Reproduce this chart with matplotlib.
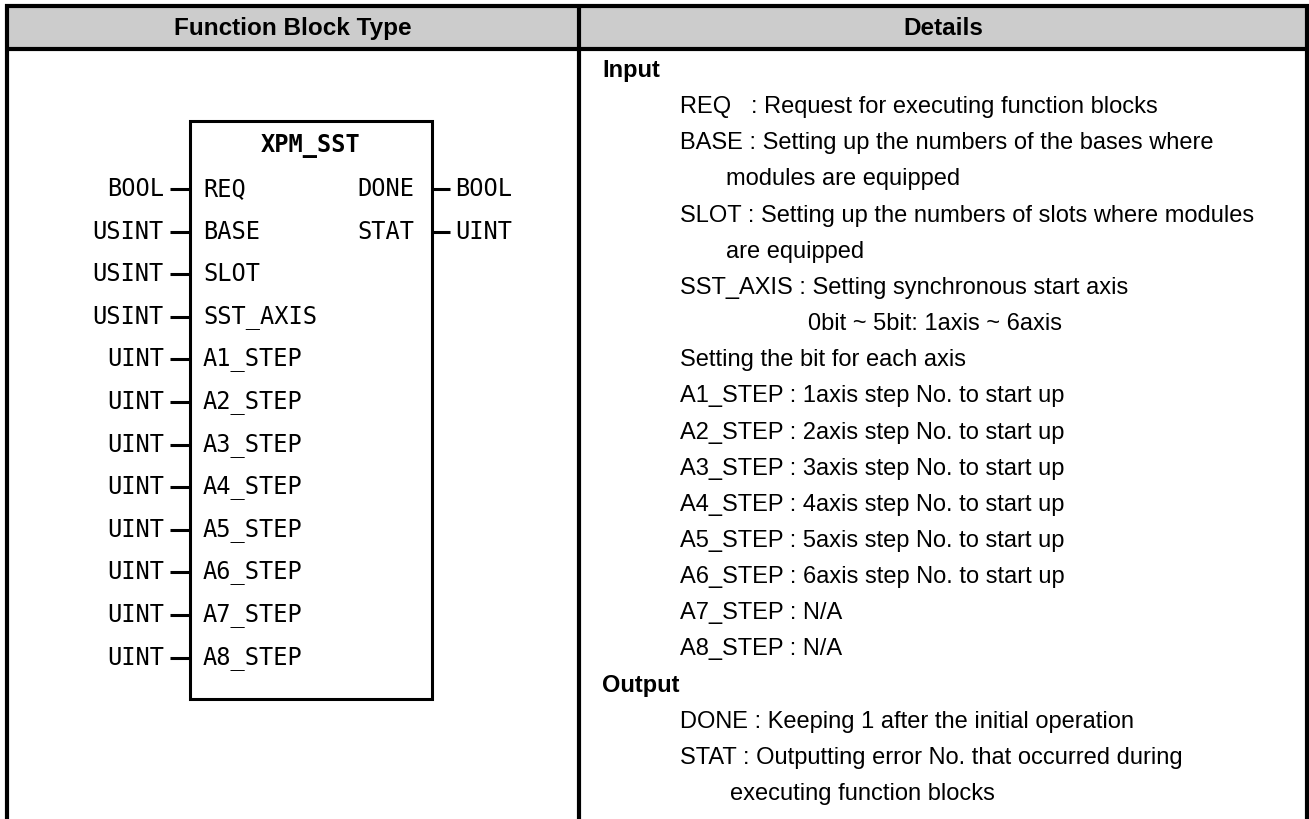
import matplotlib
matplotlib.use('Agg')
import matplotlib.pyplot as plt
from matplotlib.patches import Rectangle

# Данные блока
block_name = 'XPM_SST'
in_types = ['BOOL', 'USINT', 'USINT', 'USINT', 'UINT', 'UINT', 'UINT', 'UINT', 'UINT', 'UINT', 'UINT', 'UINT']
in_pins = ['REQ', 'BASE', 'SLOT', 'SST_AXIS', 'A1_STEP', 'A2_STEP', 'A3_STEP', 'A4_STEP',
           'A5_STEP', 'A6_STEP', 'A7_STEP', 'A8_STEP']
out_pins = ['DONE', 'STAT']
out_types = ['BOOL', 'UINT']

headers = ['Function Block Type', 'Details']

# Текст описания
detail_lines = [
    'Input',
    'REQ   : Request for executing function blocks',
    'BASE : Setting up the numbers of the bases where',
    'modules are equipped',
    'SLOT : Setting up the numbers of slots where modules',
    'are equipped',
    'SST_AXIS : Setting synchronous start axis',
    '0bit ~ 5bit: 1axis ~ 6axis',
    'Setting the bit for each axis',
    'A1_STEP : 1axis step No. to start up',
    'A2_STEP : 2axis step No. to start up',
    'A3_STEP : 3axis step No. to start up',
    'A4_STEP : 4axis step No. to start up',
    'A5_STEP : 5axis step No. to start up',
    'A6_STEP : 6axis step No. to start up',
    'A7_STEP : N/A',
    'A8_STEP : N/A',
    'Output',
    'DONE : Keeping 1 after the initial operation',
    'STAT : Outputting error No. that occurred during',
    'executing function blocks',
]
detail_indent = [0, 1, 1, 2, 1, 2, 1, 3, 1, 1, 1, 1, 1, 1, 1, 1, 1, 0, 1, 1, 4]
detail_bold = [True] + [False] * 16 + [True] + [False] * 3

W, H = 1309, 819
fig = plt.figure(figsize=(W / 100, H / 100), dpi=100)
ax = fig.add_axes([0, 0, 1, 1])
ax.set_xlim(0, W)
ax.set_ylim(H, 0)
ax.axis('off')

# Таблица
xl, xm, xr = 7, 579, 1307
yt, yh = 6, 49
lw_tab = 3.0
ax.add_patch(Rectangle((xl, yt), xr - xl, yh - yt, facecolor='#cccccc', edgecolor='none'))
ax.plot([xl, xl], [yt - 2, H], color='black', lw=lw_tab, solid_capstyle='butt')
ax.plot([xm, xm], [yt, H], color='black', lw=lw_tab, solid_capstyle='butt')
ax.plot([xr, xr], [yt, H], color='black', lw=lw_tab, solid_capstyle='butt')
ax.plot([xl - 2, W], [yt, yt], color='black', lw=lw_tab, solid_capstyle='butt')
ax.plot([xl, xr], [yh, yh], color='black', lw=lw_tab, solid_capstyle='butt')

hfont = dict(family=['Liberation Sans', 'DejaVu Sans'], fontsize=17.5, fontweight='bold')
ax.text((xl + xm) / 2, (yt + yh) / 2 + 1, headers[0], ha='center', va='center', **hfont)
ax.text((xm + xr) / 2, (yt + yh) / 2 + 1, headers[1], ha='center', va='center', **hfont)

# Функциональный блок
bx0, bx1, by0, by1 = 190, 432, 121, 699
ax.add_patch(Rectangle((bx0, by0), bx1 - bx0, by1 - by0, fill=False, edgecolor='black', lw=2.2))
mono = dict(family='DejaVu Sans Mono', fontsize=17)
ax.text((bx0 + bx1) / 2, 146, block_name, ha='center', va='center', fontweight='bold', **mono)

y_first, y_step = 189, 42.6
for i, (t, p) in enumerate(zip(in_types, in_pins)):
    y = y_first + i * y_step
    ax.plot([bx0 - 20, bx0], [y, y], color='black', lw=2.2, solid_capstyle='butt')
    ax.text(bx0 - 26, y, t, ha='right', va='center', **mono)
    ax.text(bx0 + 13, y, p, ha='left', va='center', **mono)
for i, (p, t) in enumerate(zip(out_pins, out_types)):
    y = y_first + i * y_step
    ax.plot([bx1, bx1 + 18], [y, y], color='black', lw=2.2, solid_capstyle='butt')
    ax.text(bx1 - 75, y, p, ha='left', va='center', **mono)
    ax.text(bx1 + 23, y, t, ha='left', va='center', **mono)

# Описание
indent_x = [602, 680, 726, 808, 730]
line_y0, line_dy = 71, 36.15
for i, (s, lev, b) in enumerate(zip(detail_lines, detail_indent, detail_bold)):
    ax.text(indent_x[lev], line_y0 + i * line_dy, s, ha='left', va='center',
            family=['Liberation Sans', 'DejaVu Sans'],
            fontsize=17, fontweight='bold' if b else 'normal')

fig.savefig('out.png', dpi=100)
